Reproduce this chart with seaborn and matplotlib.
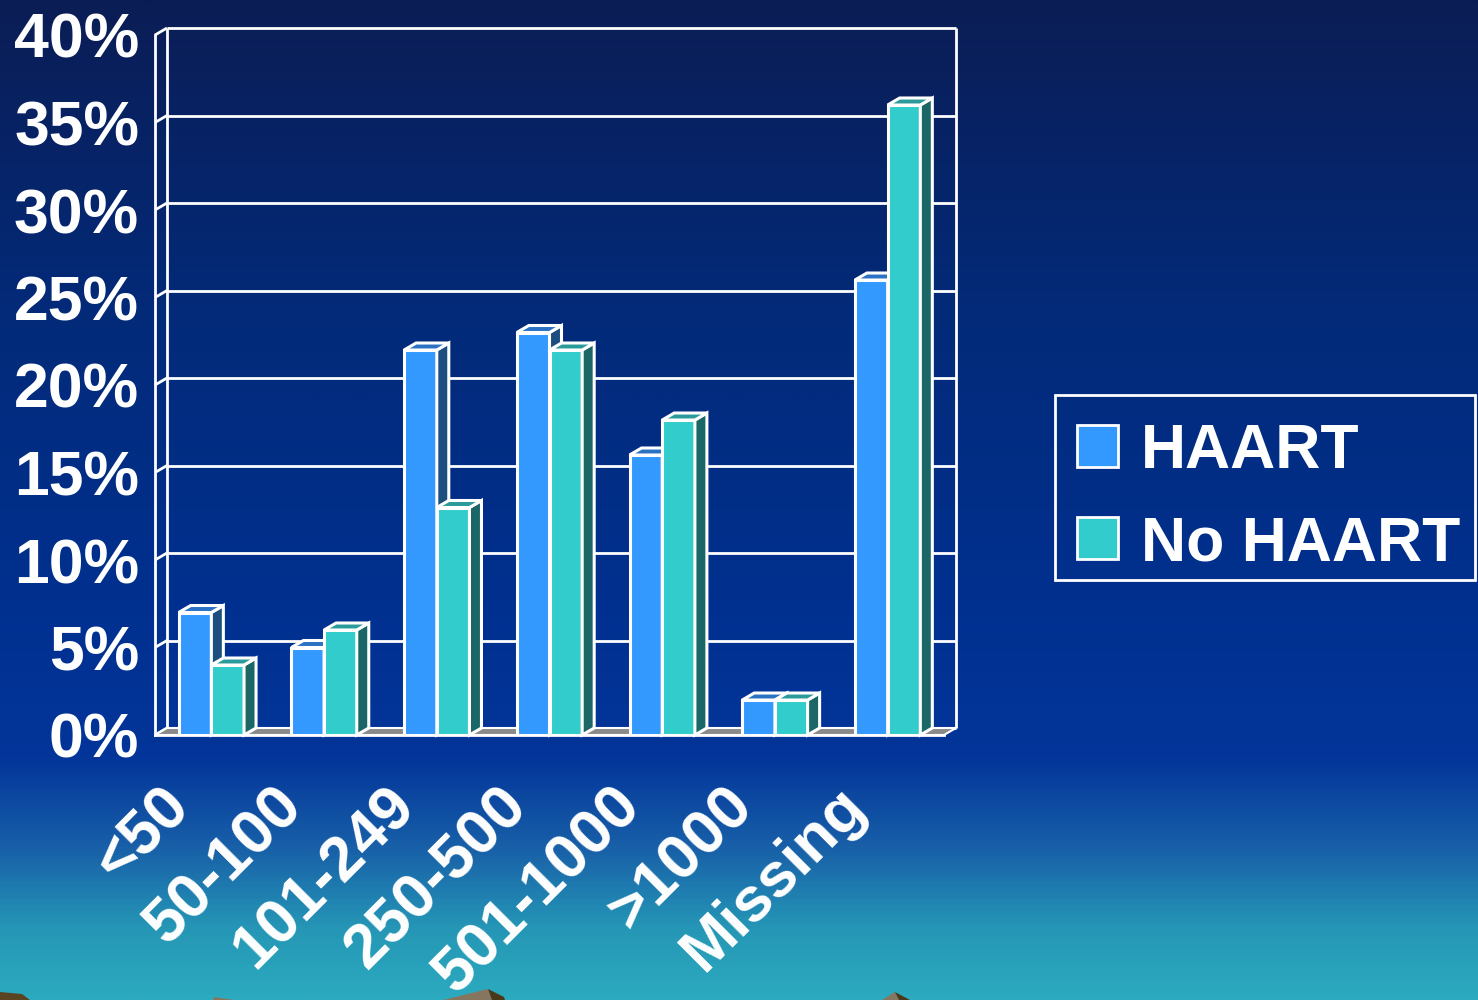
import numpy as np
import pandas as pd
import matplotlib
matplotlib.use("Agg")
import matplotlib.pyplot as plt
import matplotlib.transforms as mtransforms
import seaborn as sns
from matplotlib.patches import Polygon, Patch, Rectangle
from matplotlib.lines import Line2D
from matplotlib.colors import LinearSegmentedColormap, to_hex

# ---- data -------------------------------------------------------------
categories = ["<50", "50-100", "101-249", "250-500", "501-1000", ">1000", "Missing"]
groups = ["HAART", "No HAART"]
haart = [7, 5, 22, 23, 16, 2, 26]
no_haart = [4, 6, 13, 22, 18, 2, 36]
y_ticks = [0, 5, 10, 15, 20, 25, 30, 35, 40]
y_tick_labels = ["0%", "5%", "10%", "15%", "20%", "25%", "30%", "35%", "40%"]

# ---- styling ----------------------------------------------------------
front_colors = {"HAART": "#3399ff", "No HAART": "#33cccc"}
top_colors = {"HAART": "#2b72c2", "No HAART": "#2a9a9a"}
side_colors = {"HAART": "#1c4f80", "No HAART": "#1b6666"}

sns.set_theme(style="white")
plt.rcParams["font.family"] = ["Liberation Sans", "DejaVu Sans"]
plt.rcParams["font.weight"] = "bold"

W, H, DPI = 1478, 1000, 100
fig = plt.figure(figsize=(W / DPI, H / DPI), dpi=DPI)

# ---- sky gradient backdrop --------------------------------------------
bg = fig.add_axes([0, 0, 1, 1], zorder=-10)
sky = LinearSegmentedColormap.from_list(
    "sky",
    [(0.00, "#0b1d55"), (0.30, "#032a78"), (0.60, "#00308f"),
     (0.76, "#03359a"), (0.85, "#1860a8"), (0.93, "#2596b6"),
     (1.00, "#2caabf")],
)
grad = np.linspace(0, 1, 600).reshape(-1, 1)
bg.imshow(grad, aspect="auto", cmap=sky, extent=[0, 1, 0, 1], origin="upper")
bg.set_xlim(0, 1)
bg.set_ylim(0, 1)
bg.set_axis_off()

# hill tops peeking up along the bottom edge
def px(x, y):
    return (x / W, 1 - y / H)

light, dark = "#867660", "#4a3818"
hills = [
    ([(0, 1000), (0, 992), (22, 994), (30, 1000)], "#5a4422"),
    ([(213, 1000), (214, 997), (234, 1000)], light),
    ([(443, 1000), (488, 989), (492, 1000)], light),
    ([(488, 989), (504, 997), (505, 1000), (492, 1000)], dark),
    ([(882, 1000), (895, 992), (899, 1000)], light),
    ([(895, 992), (910, 1000), (899, 1000)], dark),
]
for pts, c in hills:
    bg.add_patch(Polygon([px(*p) for p in pts], closed=True, facecolor=c,
                         edgecolor="none"))

# ---- main axes (front plane of the 3-D box) ---------------------------
left_px, right_px, base_px, top_px = 155, 944, 735, 35
ax = fig.add_axes([left_px / W, 1 - base_px / H,
                   (right_px - left_px) / W, (base_px - top_px) / H])
ax.patch.set_alpha(0)

df = pd.DataFrame({
    "CD4": categories * 2,
    "Group": [groups[0]] * len(categories) + [groups[1]] * len(categories),
    "Pct": haart + no_haart,
})

sns.barplot(data=df, x="CD4", y="Pct", hue="Group", order=categories,
            hue_order=groups, palette=front_colors, width=0.58,
            saturation=1, edgecolor="white", linewidth=2.2,
            errorbar=None, legend=False, ax=ax)

xmin, xmax, ymin, ymax = -0.5, len(categories) - 0.5, 0, 40
ax.set_xlim(xmin, xmax)
ax.set_ylim(ymin, ymax)

# depth offset of the box: 12 px right, 7 px up, expressed in data units
dx = 12 / ((right_px - left_px) / (xmax - xmin))
dy = 7 / ((base_px - top_px) / (ymax - ymin))

line_kw = dict(color="white", lw=2.0, clip_on=False, solid_capstyle="butt")

# back wall grid lines and frame
for v in y_ticks:
    ax.add_line(Line2D([xmin + dx, xmax + dx], [v + dy, v + dy], zorder=1, **line_kw))
    ax.add_line(Line2D([xmin, xmin + dx], [v, v + dy], zorder=1, **line_kw))
ax.add_line(Line2D([xmin + dx, xmin + dx], [dy, ymax + dy], zorder=1, **line_kw))
ax.add_line(Line2D([xmax + dx, xmax + dx], [dy, ymax + dy], zorder=1, **line_kw))

# floor
ax.add_patch(Polygon([(xmin, 0), (xmax, 0), (xmax + dx, dy), (xmin + dx, dy)],
                     closed=True, facecolor="#8a8a8a", edgecolor="white",
                     lw=1.5, zorder=2, clip_on=False))

# extrude every bar: top and right-hand faces
hex_front = {to_hex(c): g for g, c in front_colors.items()}
for bar in list(ax.patches):
    if not hasattr(bar, "get_width") or bar.get_height() <= 0:
        continue
    g = hex_front.get(to_hex(bar.get_facecolor()))
    if g is None:
        continue
    z = 3 if g == "HAART" else 4
    x0, w, h = bar.get_x(), bar.get_width(), bar.get_height()
    x1 = x0 + w
    bar.set_zorder(z)
    bar.set_joinstyle("miter")
    top = Polygon([(x0, h), (x1, h), (x1 + dx, h + dy), (x0 + dx, h + dy)],
                  closed=True, facecolor=top_colors[g], edgecolor="white",
                  lw=2.2, zorder=z, clip_on=False, joinstyle="miter")
    side = Polygon([(x1, 0), (x1, h), (x1 + dx, h + dy), (x1 + dx, dy)],
                   closed=True, facecolor=side_colors[g], edgecolor="white",
                   lw=2.2, zorder=z, clip_on=False, joinstyle="miter")
    ax.add_patch(side)
    ax.add_patch(top)

# spines and ticks
for s in ("top", "right"):
    ax.spines[s].set_visible(False)
for s in ("left", "bottom"):
    ax.spines[s].set_color("white")
    ax.spines[s].set_linewidth(2.0)
    ax.spines[s].set_zorder(2.5)

ax.set_yticks(y_ticks, y_tick_labels)
ax.tick_params(axis="y", colors="white", length=9.4, width=1.6, pad=2,
               labelsize=45)
ax.set_xticks(range(len(categories)))
ax.set_xticklabels(categories, rotation=45, ha="right", va="center",
                   rotation_mode="anchor", fontsize=45, fontweight="bold",
                   color="white")
ax.set_xticks(np.arange(xmin, xmax + 0.01, 1), minor=True)
ax.tick_params(axis="x", which="major", length=0, pad=30)
ax.tick_params(axis="x", which="minor", length=9.4, width=1.6, color="white")
shift = mtransforms.ScaledTranslation(-0.31, -0.20, fig.dpi_scale_trans)
for lbl in ax.get_xticklabels():
    lbl.set_transform(lbl.get_transform() + shift)
for lbl in ax.get_yticklabels():
    lbl.set_fontweight("bold")
ax.set_xlabel("")
ax.set_ylabel("")

# legend: entries plus a plain white box around them
handles = [Patch(facecolor=front_colors[g], edgecolor="white", linewidth=2)
           for g in groups]
leg = ax.legend(handles, groups, loc="upper left",
                bbox_to_anchor=(1077 / W, 1 - 422 / H),
                bbox_transform=fig.transFigure, frameon=False,
                labelcolor="white", prop={"size": 45, "weight": "bold"},
                handlelength=0.66, handleheight=0.66, handletextpad=0.36,
                borderpad=0, labelspacing=0.53, borderaxespad=0)
fig.patches.append(Rectangle((1055 / W, 1 - 580 / H), 420 / W, 185 / H,
                             transform=fig.transFigure, facecolor="none",
                             edgecolor="white", linewidth=2, zorder=5))

fig.savefig("out.png", dpi=DPI)
